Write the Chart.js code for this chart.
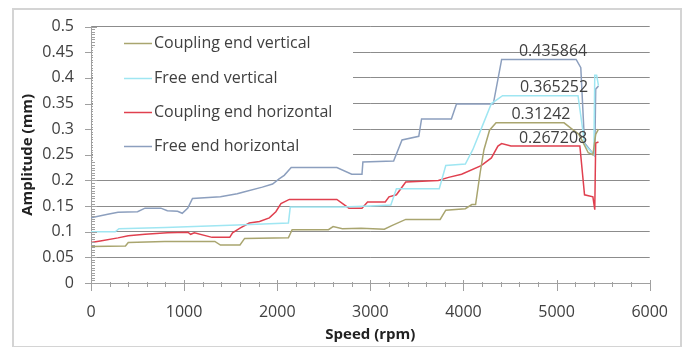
<!DOCTYPE html>
<html>
<head>
<meta charset="utf-8">
<script src="https://cdn.jsdelivr.net/npm/chart.js@4/dist/chart.umd.min.js"></script>
<style>
  html, body { margin: 0; padding: 0; background: #fff; }
  #wrap { position: relative; width: 688px; height: 347px; overflow: hidden; }
  #frame { position: absolute; left: 12px; top: 8px; width: 670px; height: 340px; border: 2px solid #d4d4d4; box-sizing: border-box; }
  canvas { position: absolute; left: 0; top: 0; }
</style>
</head>
<body>
<div id="wrap">
  <div id="frame"></div>
  <canvas id="c" width="688" height="347"></canvas>
</div>
<script>
// ---- data ----
const seriesNames = ['Coupling end vertical', 'Free end vertical', 'Coupling end horizontal', 'Free end horizontal'];

const cevSpeed = [0, 370, 400, 790, 1330, 1390, 1600, 1650, 2120, 2160, 2550, 2600, 2700, 2900, 3150, 3230, 3380, 3750, 3810, 4020, 4090, 4130, 4180, 4220, 4280, 4350, 5080, 5180, 5240, 5340, 5390, 5420, 5450];
const cevAmp   = [0.071, 0.072, 0.079, 0.081, 0.081, 0.074, 0.074, 0.087, 0.088, 0.104, 0.104, 0.11, 0.106, 0.107, 0.105, 0.112, 0.124, 0.124, 0.142, 0.145, 0.153, 0.153, 0.216, 0.26, 0.298, 0.3124, 0.3124, 0.298, 0.29, 0.254, 0.25, 0.29, 0.3];

const fevSpeed = [0, 260, 300, 800, 1570, 2120, 2140, 2700, 3000, 3220, 3280, 3740, 3810, 4020, 4100, 4200, 4300, 4420, 5230, 5280, 5300, 5400, 5410, 5430, 5450];
const fevAmp   = [0.1, 0.1, 0.106, 0.108, 0.113, 0.117, 0.148, 0.148, 0.15, 0.152, 0.184, 0.184, 0.229, 0.232, 0.26, 0.305, 0.35, 0.3653, 0.3653, 0.3, 0.27, 0.25, 0.405, 0.405, 0.385];

const cehSpeed = [0, 100, 290, 400, 580, 820, 1040, 1070, 1110, 1300, 1490, 1520, 1600, 1700, 1810, 1915, 1985, 2040, 2130, 2640, 2770, 2910, 2970, 3160, 3200, 3280, 3380, 3730, 3840, 3980, 4190, 4300, 4370, 4410, 4510, 5250, 5300, 5390, 5410, 5420, 5450];
const cehAmp   = [0.079, 0.082, 0.088, 0.092, 0.095, 0.098, 0.099, 0.095, 0.098, 0.089, 0.089, 0.098, 0.107, 0.117, 0.12, 0.127, 0.139, 0.155, 0.163, 0.163, 0.146, 0.146, 0.158, 0.158, 0.168, 0.172, 0.197, 0.2, 0.206, 0.212, 0.229, 0.244, 0.267, 0.272, 0.2672, 0.2672, 0.172, 0.168, 0.143, 0.273, 0.275];

const fehSpeed = [0, 180, 290, 500, 580, 750, 820, 930, 980, 1040, 1090, 1390, 1570, 1630, 1840, 1950, 2020, 2075, 2150, 2640, 2800, 2910, 2920, 3250, 3340, 3520, 3550, 3870, 3925, 4320, 4410, 5210, 5260, 5300, 5410, 5420, 5450];
const fehAmp   = [0.127, 0.134, 0.138, 0.139, 0.146, 0.146, 0.141, 0.14, 0.136, 0.146, 0.165, 0.168, 0.174, 0.177, 0.187, 0.193, 0.203, 0.21, 0.225, 0.225, 0.212, 0.212, 0.236, 0.238, 0.279, 0.286, 0.32, 0.32, 0.349, 0.349, 0.4359, 0.4359, 0.42, 0.273, 0.248, 0.378, 0.384];

// data labels (value shown, and the speed where it is written)
const labelValues = [0.435864, 0.365252, 0.31242, 0.267208];
const labelSpeeds = [4930, 4940, 4800, 4930];

const xTickValues = [0, 1000, 2000, 3000, 4000, 5000, 6000];
const yTickValues = [0, 0.05, 0.1, 0.15, 0.2, 0.25, 0.3, 0.35, 0.4, 0.45, 0.5];

// ---- styles ----
const colors = ['#a9a56f', '#9fe6f2', '#e0404f', '#8c9fbe'];
const FONT = "'Open Sans', sans-serif";
Chart.defaults.font.family = FONT;

function pts(xs, ys) { return xs.map((x, i) => ({ x: x, y: ys[i] })); }

const seriesData = [pts(cevSpeed, cevAmp), pts(fevSpeed, fevAmp), pts(cehSpeed, cehAmp), pts(fehSpeed, fehAmp)];

const extras = {
  id: 'extras',
  afterDatasetsDraw(chart) {
    const ctx = chart.ctx;
    const xs = chart.scales.x, ys = chart.scales.y;
    const ca = chart.chartArea;
    ctx.save();
    // minor/major ticks on x axis
    ctx.strokeStyle = '#a0a0a0';
    ctx.lineWidth = 1;
    for (let v = 0; v <= 6000; v += 200) {
      const px = Math.round(xs.getPixelForValue(v)) + 0.5;
      const major = v % 1000 === 0;
      ctx.beginPath();
      ctx.moveTo(px, ca.bottom - (major ? 3 : 1));
      ctx.lineTo(px, ca.bottom + (major ? 8 : 4));
      ctx.stroke();
    }
    // minor/major ticks on y axis
    for (let i = 0; i <= 100; i++) {
      const v = i * 0.005;
      const py = Math.round(ys.getPixelForValue(v)) + 0.5;
      const major = i % 10 === 0;
      ctx.beginPath();
      ctx.moveTo(ca.left - (major ? 6 : 0), py);
      ctx.lineTo(ca.left + (major ? 6 : 4), py);
      ctx.stroke();
    }
    // legend box inside plot
    const bx = ca.left + 2, by = ys.getPixelForValue(0.46), bw = 260, bh = ys.getPixelForValue(0.236) - by;
    ctx.fillStyle = '#ffffff';
    ctx.fillRect(bx, by, bw, bh);
    ctx.font = '16px ' + FONT;
    ctx.textBaseline = 'middle';
    ctx.textAlign = 'left';
    const rows = [43, 78, 112, 146];
    chart.data.datasets.forEach((ds, i) => {
      const y = rows[i] + 0.5;
      ctx.strokeStyle = ds.borderColor;
      ctx.lineWidth = 1.5;
      ctx.beginPath();
      ctx.moveTo(124, y);
      ctx.lineTo(152, y);
      ctx.stroke();
      ctx.fillStyle = '#404040';
      ctx.fillText(ds.label, 154, y);
    });
    // data labels
    ctx.font = '16px ' + FONT;
    ctx.textAlign = 'center';
    ctx.fillStyle = '#404040';
    labelValues.forEach((v, i) => {
      ctx.fillText(String(v), xs.getPixelForValue(labelSpeeds[i]) + 3, ys.getPixelForValue(v) - 8);
    });
    ctx.restore();
  }
};

new Chart(document.getElementById('c'), {
  type: 'line',
  data: {
    datasets: seriesData.map((d, i) => ({
      label: seriesNames[i],
      data: d,
      borderColor: colors[i],
      backgroundColor: colors[i],
      borderWidth: 1.5,
      pointRadius: 0,
      tension: 0,
      fill: false
    }))
  },
  options: {
    responsive: false,
    animation: false,
    devicePixelRatio: 1,
    layout: { padding: { left: 0, top: 21, right: 36, bottom: 0 } },
    plugins: { legend: { display: false }, tooltip: { enabled: false } },
    scales: {
      x: {
        type: 'linear',
        min: 0, max: 6000,
        afterBuildTicks: s => { s.ticks = xTickValues.map(v => ({ value: v })); },
        afterFit: s => { s.height = 64; },
        ticks: { font: { size: 16 }, color: '#404040', padding: 20, maxRotation: 0, callback: v => String(v) },
        grid: { drawOnChartArea: false, drawTicks: false },
        border: { color: '#a0a0a0', width: 1 },
        title: { display: true, text: 'Speed (rpm)', font: { size: 15, weight: 'bold' }, color: '#222', padding: { top: 0, bottom: 3 } }
      },
      y: {
        min: 0, max: 0.5,
        afterBuildTicks: s => { s.ticks = yTickValues.map(v => ({ value: v })); },
        afterFit: s => { s.width = 91; },
        ticks: { font: { size: 16 }, color: '#404040', padding: 17, callback: v => String(Number(v.toFixed(2))) },
        grid: { drawTicks: false, color: c => (c.tick && c.tick.value === 0) ? 'rgba(0,0,0,0)' : '#8c8c8c' },
        border: { color: '#a0a0a0', width: 1 },
        title: { display: true, text: 'Amplitude (mm)', font: { size: 15, weight: 'bold' }, color: '#222', padding: { top: 19, bottom: 0 } }
      }
    }
  },
  plugins: [extras]
});
</script>
</body>
</html>
